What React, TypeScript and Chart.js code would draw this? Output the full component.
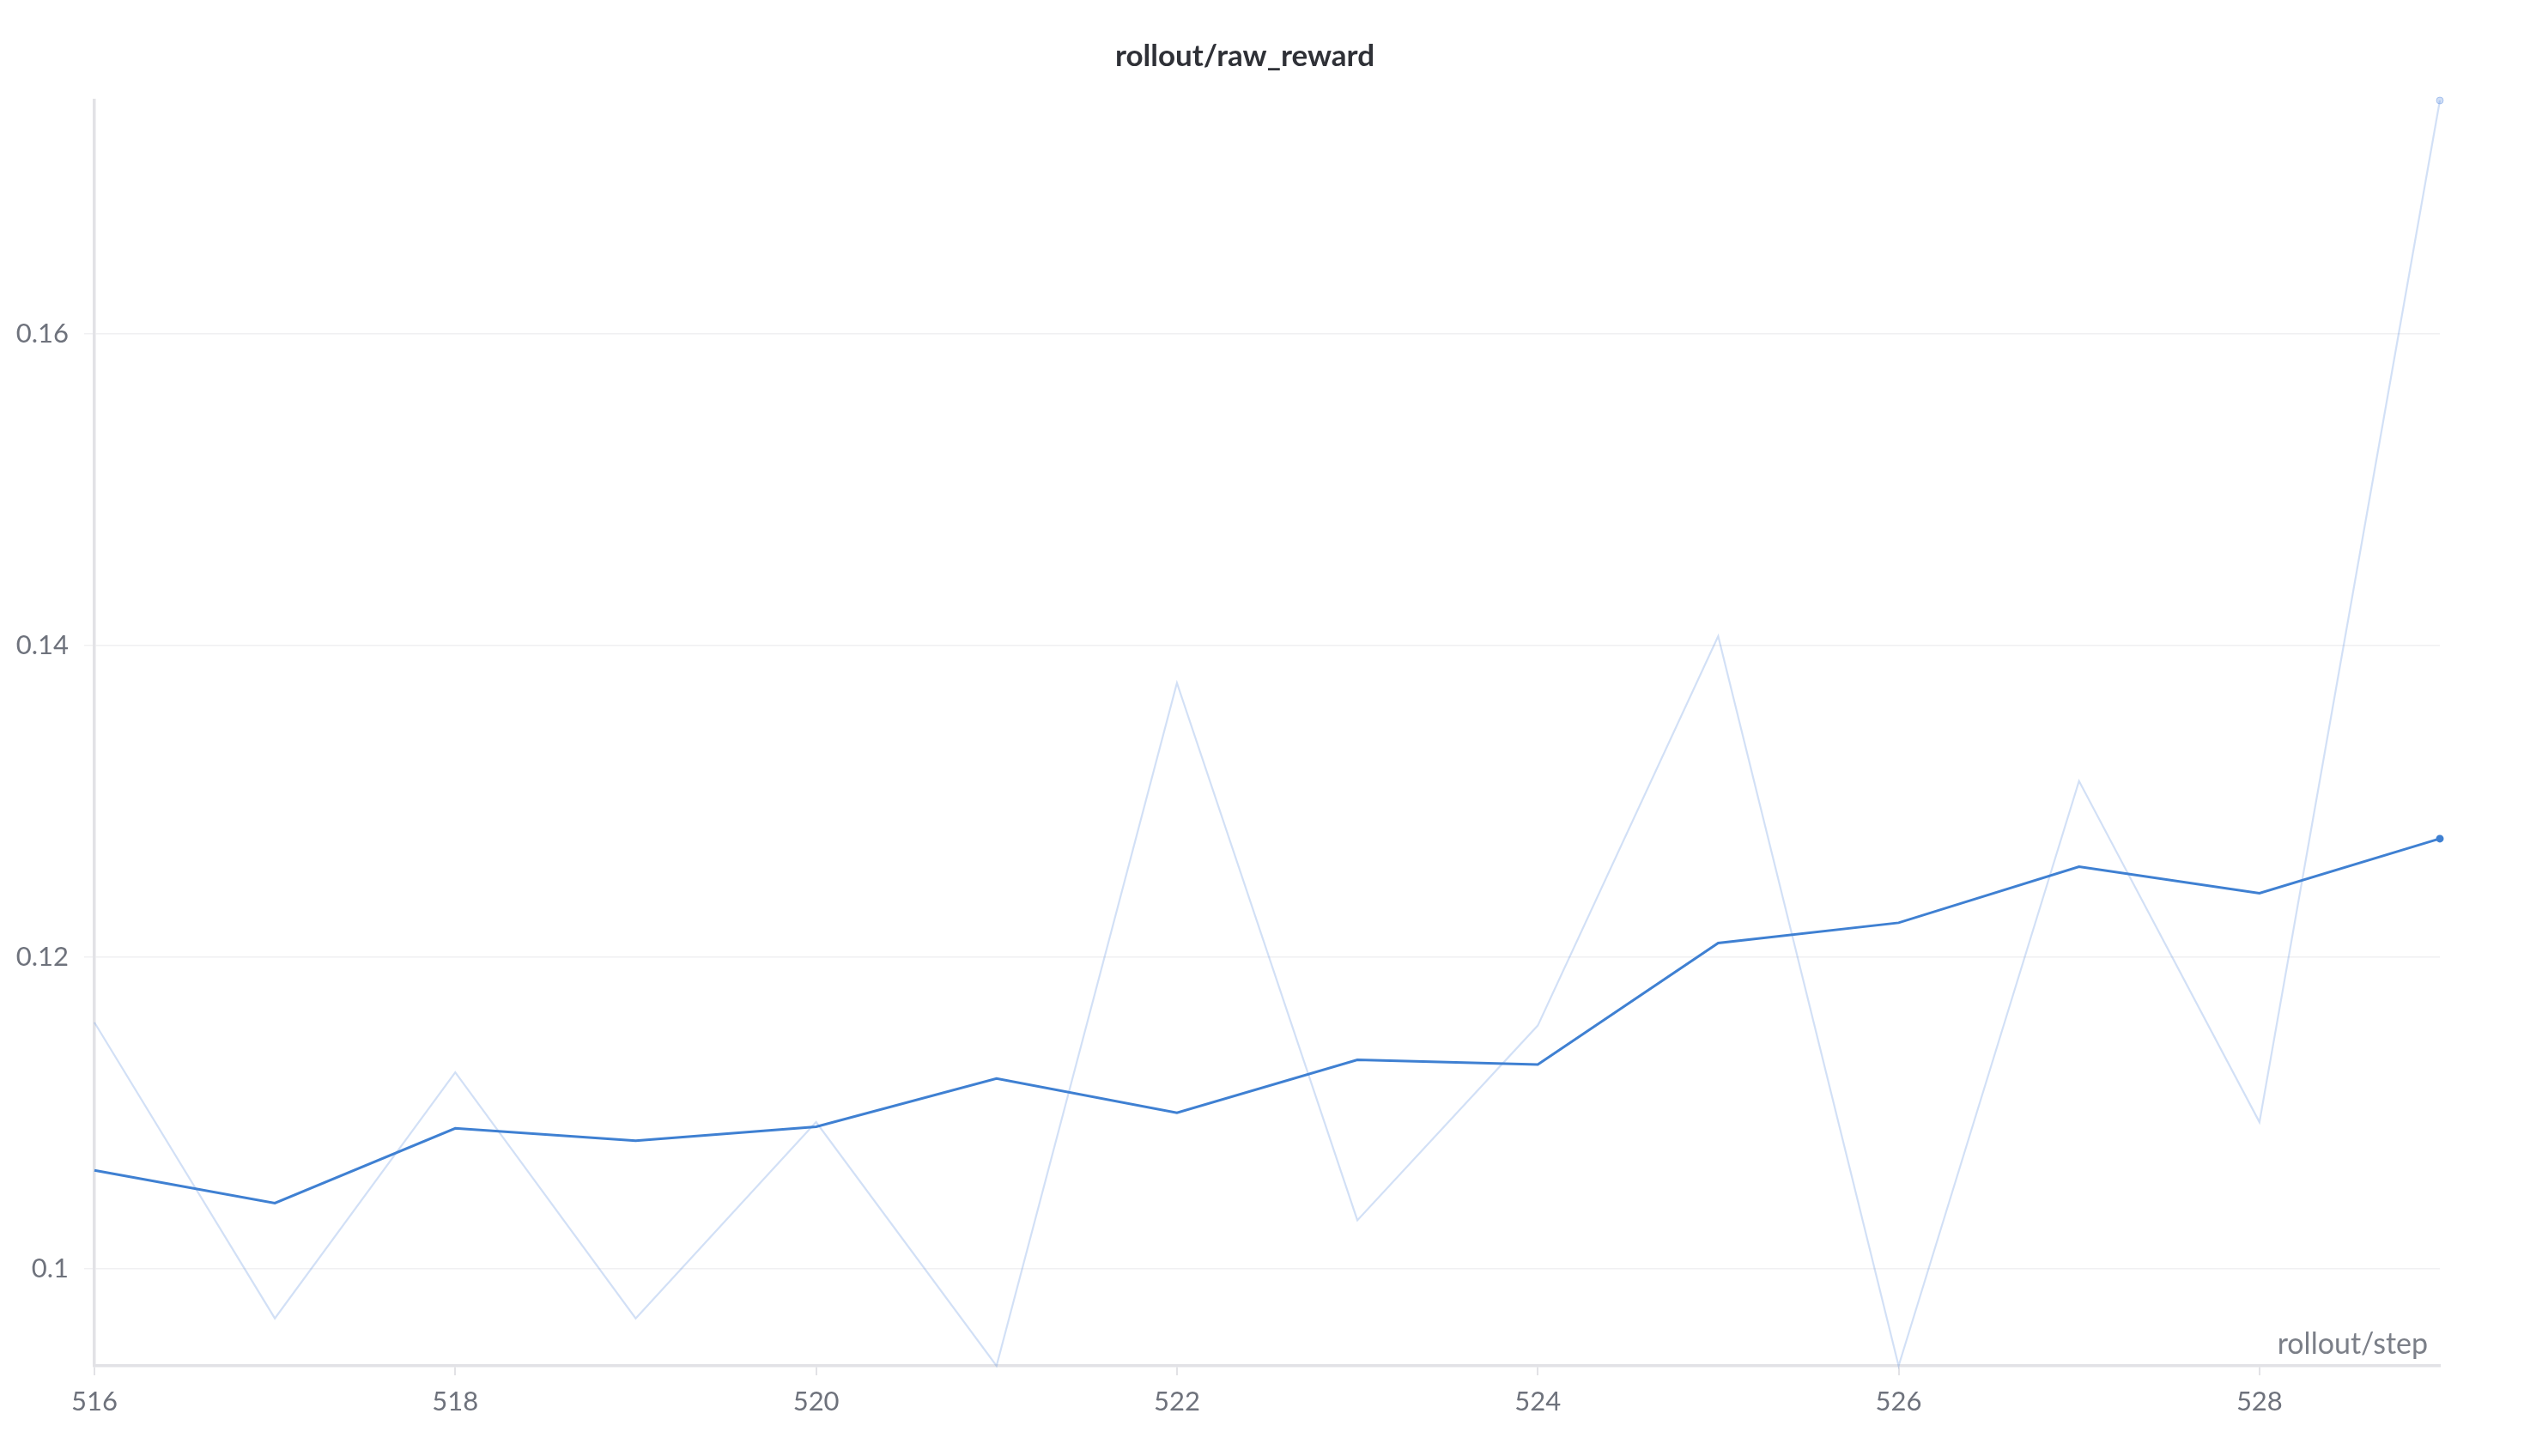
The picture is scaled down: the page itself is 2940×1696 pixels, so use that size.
import React, { useEffect, useRef } from "react";
import { Chart, registerables } from "chart.js";

Chart.register(...registerables);

const TITLE = "rollout/raw_reward";
const X_LABEL = "rollout/step";
const steps = [516, 517, 518, 519, 520, 521, 522, 523, 524, 525, 526, 527, 528, 529];
const rawReward = [0.1158, 0.0968, 0.1126, 0.0968, 0.1094, 0.09375, 0.1376, 0.1031, 0.1156, 0.1406, 0.09375, 0.1313, 0.1094, 0.175];
const smoothedReward = [0.1063, 0.1042, 0.109, 0.1082, 0.1091, 0.1122, 0.11, 0.1134, 0.1131, 0.1209, 0.1222, 0.1258, 0.1241, 0.1276];
const xTicks = [516, 518, 520, 522, 524, 526, 528];
const yTicks = [0.1, 0.12, 0.14, 0.16];

const FONT = "Lato, 'Noto Sans', sans-serif";
const TICK_COLOR = "#6e727c";

const textPlugin = {
  id: "textPlugin",
  afterDraw(chart: any) {
    const ctx = chart.ctx;
    const area = chart.chartArea;
    ctx.save();
    ctx.fillStyle = "#2f3137";
    ctx.font = `bold 35px ${FONT}`;
    ctx.textAlign = "center";
    ctx.textBaseline = "middle";
    ctx.fillText(TITLE, 1450, 66);
    ctx.fillStyle = "#7b7f88";
    ctx.font = `34px ${FONT}`;
    ctx.textAlign = "right";
    ctx.textBaseline = "alphabetic";
    ctx.fillText(X_LABEL, area.right - 14, area.bottom - 14);
    ctx.restore();
  },
};

export default function App() {
  const ref = useRef<HTMLCanvasElement | null>(null);
  useEffect(() => {
    if (!ref.current) return;
    const all = [...rawReward, ...smoothedReward];
    const last = steps.length - 1;
    const chart = new Chart(ref.current, {
      type: "line",
      data: {
        datasets: [
          {
            label: "raw",
            data: steps.map((s, i) => ({ x: s, y: rawReward[i] })),
            borderColor: "rgba(83,135,221,0.26)",
            backgroundColor: "rgba(83,135,221,0.28)",
            borderWidth: 2.2,
            pointRadius: steps.map((_, i) => (i === last ? 4 : 0)),
            pointBorderWidth: 1,
            pointBorderColor: "rgba(83,135,221,0.38)",
            tension: 0,
            clip: false as any,
            order: 2,
          },
          {
            label: "smoothed",
            data: steps.map((s, i) => ({ x: s, y: smoothedReward[i] })),
            borderColor: "#3f80d2",
            backgroundColor: "#3f80d2",
            borderWidth: 3,
            pointRadius: steps.map((_, i) => (i === last ? 4.5 : 0)),
            pointBorderWidth: 0,
            tension: 0,
            clip: false as any,
            order: 1,
          },
        ],
      },
      options: {
        animation: false,
        responsive: true,
        maintainAspectRatio: false,
        devicePixelRatio: 1,
        layout: { padding: { left: 0, top: 117, right: 98, bottom: 0 } },
        plugins: {
          legend: { display: false },
          tooltip: { enabled: false },
          title: { display: false },
        },
        scales: {
          x: {
            type: "linear",
            min: steps[0],
            max: steps[last],
            afterBuildTicks: (scale: any) => {
              scale.ticks = xTicks.map((v) => ({ value: v }));
            },
            afterFit: (scale: any) => {
              scale.height = 105;
            },
            ticks: {
              color: TICK_COLOR,
              font: { family: FONT, size: 31 },
              padding: 12,
              maxRotation: 0,
              autoSkip: false,
              callback: (v: any) => String(v),
            },
            grid: {
              drawOnChartArea: false,
              color: "#e2e2e6",
              tickLength: 11,
              lineWidth: 2,
            },
            border: { color: "#e2e2e6", width: 3.5 },
          },
          y: {
            type: "linear",
            min: Math.min(...all),
            max: Math.max(...all),
            afterBuildTicks: (scale: any) => {
              scale.ticks = yTicks.map((v) => ({ value: v }));
            },
            afterFit: (scale: any) => {
              scale.width = 110;
            },
            ticks: {
              color: TICK_COLOR,
              font: { family: FONT, size: 31 },
              padding: 18,
              callback: (v: any) => String(Number(v.toFixed(2))),
            },
            grid: {
              color: "#f0f0f2",
              lineWidth: 1.5,
              tickLength: 12,
            },
            border: { color: "#e2e2e6", width: 3.5 },
          },
        },
      },
      plugins: [textPlugin],
    });
    return () => chart.destroy();
  }, []);

  return (
    <div style={{ position: "fixed", left: 0, top: 0, width: 2940, height: 1696, background: "#fff" }}>
      <canvas ref={ref} />
    </div>
  );
}
